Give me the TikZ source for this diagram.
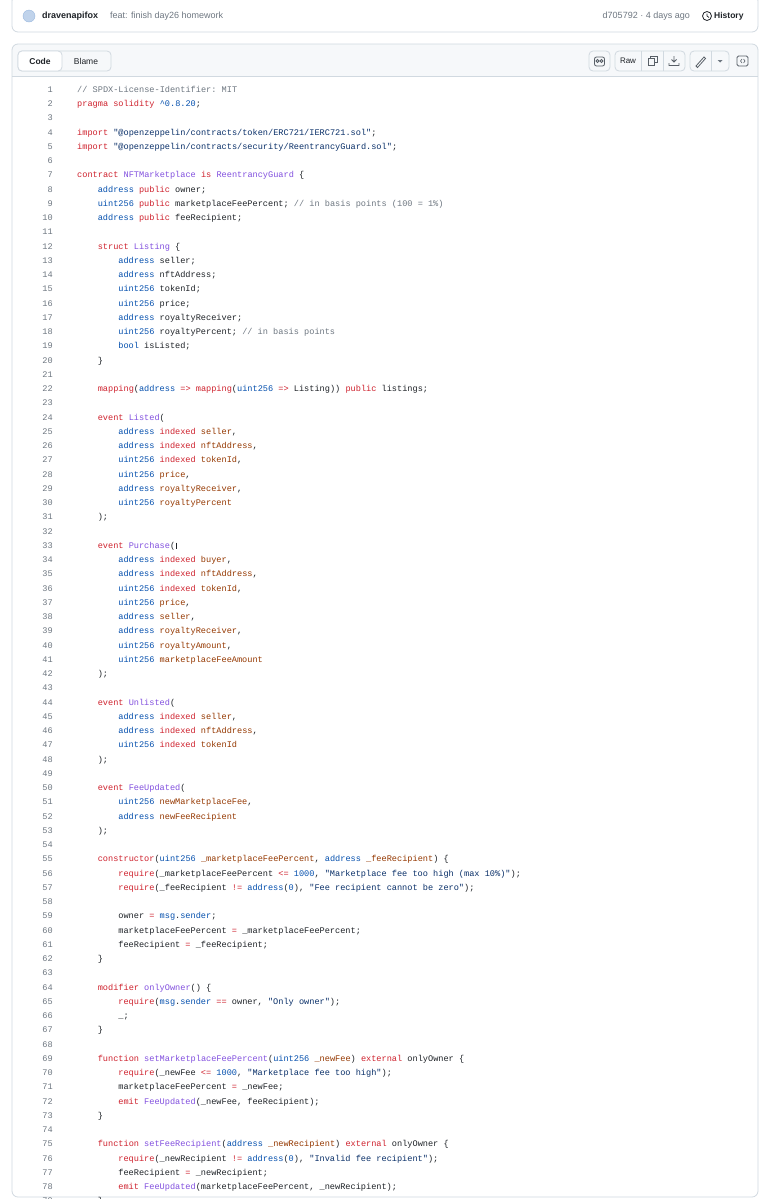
\documentclass[tikz,border=0pt]{standalone}
\usepackage{fontspec}
\setmainfont{Liberation Sans}
\setmonofont{Liberation Mono}
\definecolor{kw}{HTML}{CF222E}
\definecolor{ty}{HTML}{0550AE}
\definecolor{nm}{HTML}{8250DF}
\definecolor{pa}{HTML}{953800}
\definecolor{st}{HTML}{0A3069}
\definecolor{gry}{HTML}{6E7781}
\definecolor{tx}{HTML}{1F2328}
\definecolor{bd}{HTML}{D1D9E0}
\definecolor{bgg}{HTML}{F6F8FA}
\newcommand\ckw[1]{\textcolor{kw}{#1}}
\newcommand\cty[1]{\textcolor{ty}{#1}}
\newcommand\cnm[1]{\textcolor{nm}{#1}}
\newcommand\cpa[1]{\textcolor{pa}{#1}}
\newcommand\cst[1]{\textcolor{st}{#1}}
\newcommand\ccm[1]{\textcolor{gry}{#1}}
\tikzset{
  lnum/.style={anchor=east,inner sep=0pt,font=\ttfamily\fontsize{8.6}{10}\selectfont,text=gry,text height=6.5pt,text depth=2pt},
  code/.style={anchor=west,inner sep=0pt,font=\ttfamily\fontsize{8.6}{10}\selectfont,text=tx,text height=6.5pt,text depth=2pt},
  card/.style={draw=bd,line width=0.8pt,rounded corners=6pt},
  btn/.style={draw=bd,line width=0.8pt,rounded corners=4pt,fill=bgg},
  hdr/.style={inner sep=0pt,font=\fontsize{9}{11}\selectfont,text=tx},
  icon/.style={draw=gry!80!black,line width=0.8pt}
}
\newcommand\cl[3]{%
  \node[lnum] (n#1) at (53,{90+(#1-1)*14.25}) {#1};
  \node[code] (c#1) at ({77+#2*20.6},{90+(#1-1)*14.25}) {#3};}
\newcommand\el[1]{\node[lnum] (n#1) at (53,{90+(#1-1)*14.25}) {#1};}
\begin{document}
\begin{tikzpicture}[x=1pt,y=-1pt]
\useasboundingbox[fill=white] (0,0) rectangle (770,1200);
% top commit card
\draw[card] (12,-5) rectangle (758,32);
\node[circle,fill=ty!25,draw=ty!40,minimum size=12pt,inner sep=0pt] (av) at (29,16) {};
\node[hdr,anchor=west,font=\bfseries\fontsize{9}{11}\selectfont] (user) at (42,16) {dravenapifox};
\node[hdr,anchor=west,text=gry] (msg) at (110,16) {feat: finish day26 homework};
\node[hdr,anchor=east,text=gry] (sha) at (690,16) {d705792 · 4 days ago};
\node[circle,draw=tx,line width=0.8pt,minimum size=9pt,inner sep=0pt] (clk) at (707,16) {};
\draw[tx,line width=0.7pt] (clk.center) -- ++(0,-2.5) (clk.center) -- ++(2,1.5);
\node[hdr,anchor=west,font=\bfseries\fontsize{8.5}{11}\selectfont] (hist) at (714,16) {History};
% code card
\begin{scope}
\clip[rounded corners=6pt] (12,44) rectangle (758,1197);
\fill[bgg] (12,44) rectangle (758,76);
\end{scope}
\draw[card] (12,44) rectangle (758,1197);
\draw[bd,line width=0.8pt] (12,76) -- (758,76);
% segmented control
\draw[btn] (18,51) rectangle (111,71);
\draw[card,fill=white,rounded corners=4pt] (18,51) rectangle (62,71);
\node[hdr,font=\bfseries\fontsize{8.5}{11}\selectfont] (tcode) at (40,61) {Code};
\node[hdr,font=\fontsize{8.5}{11}\selectfont] (tblame) at (86,61) {Blame};
% right buttons
\draw[btn] (589,51) rectangle (610,71);
\draw[icon,rounded corners=2pt] (594.5,57) rectangle (604.5,66);
\draw[icon] (597.5,61) circle (1.5) (601.5,61) circle (1.5);
\draw[btn] (615,51) rectangle (685,71);
\draw[bd,line width=0.8pt] (641,51) -- (641,71) (663,51) -- (663,71);
\node[hdr,font=\fontsize{8}{10}\selectfont] (raw) at (628,61) {Raw};
\draw[icon] (648,58) rectangle (654,65) (650,58) -- (650,56) -- (657,56) -- (657,62) -- (654,62);
\draw[icon] (674,56) -- (674,62) (671.5,59.5) -- (674,62) -- (676.5,59.5) (669,63) -- (669,65.5) -- (679,65.5) -- (679,63);
\draw[btn] (690,51) rectangle (729,71);
\draw[bd,line width=0.8pt] (711,51) -- (711,71);
\draw[icon,line cap=round] (696,66) -- (704,57) -- (705.5,58.5) -- (697.5,67.5) -- cycle;
\fill[gry] (717.5,60) -- (722.5,60) -- (720,62.5) -- cycle;
\draw[icon,rounded corners=1.5pt] (737,56) rectangle (748,66);
\draw[icon,line width=0.6pt] (742,59) -- (740.5,61) -- (742,63) (743.5,59) -- (745,61) -- (743.5,63);
% code lines
\cl{1}{0}{\ccm{// SPDX-License-Identifier: MIT}}
\cl{2}{0}{\ckw{pragma solidity} \cty{\textasciicircum 0.8.20};}
\el{3}
\cl{4}{0}{\ckw{import} \cst{"@openzeppelin/contracts/token/ERC721/IERC721.sol"};}
\cl{5}{0}{\ckw{import} \cst{"@openzeppelin/contracts/security/ReentrancyGuard.sol"};}
\el{6}
\cl{7}{0}{\ckw{contract} \cnm{NFTMarketplace} \ckw{is} \cnm{ReentrancyGuard} \{}
\cl{8}{1}{\cty{address} \ckw{public} owner;}
\cl{9}{1}{\cty{uint256} \ckw{public} marketplaceFeePercent; \ccm{// in basis points (100 = 1\%)}}
\cl{10}{1}{\cty{address} \ckw{public} feeRecipient;}
\el{11}
\cl{12}{1}{\ckw{struct} \cnm{Listing} \{}
\cl{13}{2}{\cty{address} seller;}
\cl{14}{2}{\cty{address} nftAddress;}
\cl{15}{2}{\cty{uint256} tokenId;}
\cl{16}{2}{\cty{uint256} price;}
\cl{17}{2}{\cty{address} royaltyReceiver;}
\cl{18}{2}{\cty{uint256} royaltyPercent; \ccm{// in basis points}}
\cl{19}{2}{\cty{bool} isListed;}
\cl{20}{1}{\}}
\el{21}
\cl{22}{1}{\ckw{mapping}(\cty{address} \ckw{=>} \ckw{mapping}(\cty{uint256} \ckw{=>} Listing)) \ckw{public} listings;}
\el{23}
\cl{24}{1}{\ckw{event} \cnm{Listed}(}
\cl{25}{2}{\cty{address} \ckw{indexed} \cpa{seller},}
\cl{26}{2}{\cty{address} \ckw{indexed} \cpa{nftAddress},}
\cl{27}{2}{\cty{uint256} \ckw{indexed} \cpa{tokenId},}
\cl{28}{2}{\cty{uint256} \cpa{price},}
\cl{29}{2}{\cty{address} \cpa{royaltyReceiver},}
\cl{30}{2}{\cty{uint256} \cpa{royaltyPercent}}
\cl{31}{1}{);}
\el{32}
\cl{33}{1}{\ckw{event} \cnm{Purchase}(}
\draw[tx,line width=1pt] ([xshift=1pt,yshift=-1pt]c33.north east) -- ([xshift=1pt,yshift=1pt]c33.south east);
\cl{34}{2}{\cty{address} \ckw{indexed} \cpa{buyer},}
\cl{35}{2}{\cty{address} \ckw{indexed} \cpa{nftAddress},}
\cl{36}{2}{\cty{uint256} \ckw{indexed} \cpa{tokenId},}
\cl{37}{2}{\cty{uint256} \cpa{price},}
\cl{38}{2}{\cty{address} \cpa{seller},}
\cl{39}{2}{\cty{address} \cpa{royaltyReceiver},}
\cl{40}{2}{\cty{uint256} \cpa{royaltyAmount},}
\cl{41}{2}{\cty{uint256} \cpa{marketplaceFeeAmount}}
\cl{42}{1}{);}
\el{43}
\cl{44}{1}{\ckw{event} \cnm{Unlisted}(}
\cl{45}{2}{\cty{address} \ckw{indexed} \cpa{seller},}
\cl{46}{2}{\cty{address} \ckw{indexed} \cpa{nftAddress},}
\cl{47}{2}{\cty{uint256} \ckw{indexed} \cpa{tokenId}}
\cl{48}{1}{);}
\el{49}
\cl{50}{1}{\ckw{event} \cnm{FeeUpdated}(}
\cl{51}{2}{\cty{uint256} \cpa{newMarketplaceFee},}
\cl{52}{2}{\cty{address} \cpa{newFeeRecipient}}
\cl{53}{1}{);}
\el{54}
\cl{55}{1}{\ckw{constructor}(\cty{uint256} \cpa{\_marketplaceFeePercent}, \cty{address} \cpa{\_feeRecipient}) \{}
\cl{56}{2}{\ckw{require}(\_marketplaceFeePercent \ckw{<=} \cty{1000}, \cst{"Marketplace fee too high (max 10\%)"});}
\cl{57}{2}{\ckw{require}(\_feeRecipient \ckw{!=} \cty{address}(\cty{0}), \cst{"Fee recipient cannot be zero"});}
\el{58}
\cl{59}{2}{owner \ckw{=} \cty{msg}.\cty{sender};}
\cl{60}{2}{marketplaceFeePercent \ckw{=} \_marketplaceFeePercent;}
\cl{61}{2}{feeRecipient \ckw{=} \_feeRecipient;}
\cl{62}{1}{\}}
\el{63}
\cl{64}{1}{\ckw{modifier} \cnm{onlyOwner}() \{}
\cl{65}{2}{\ckw{require}(\cty{msg}.\cty{sender} \ckw{==} owner, \cst{"Only owner"});}
\cl{66}{2}{\_;}
\cl{67}{1}{\}}
\el{68}
\cl{69}{1}{\ckw{function} \cnm{setMarketplaceFeePercent}(\cty{uint256} \cpa{\_newFee}) \ckw{external} onlyOwner \{}
\cl{70}{2}{\ckw{require}(\_newFee \ckw{<=} \cty{1000}, \cst{"Marketplace fee too high"});}
\cl{71}{2}{marketplaceFeePercent \ckw{=} \_newFee;}
\cl{72}{2}{\ckw{emit} \cnm{FeeUpdated}(\_newFee, feeRecipient);}
\cl{73}{1}{\}}
\el{74}
\cl{75}{1}{\ckw{function} \cnm{setFeeRecipient}(\cty{address} \cpa{\_newRecipient}) \ckw{external} onlyOwner \{}
\cl{76}{2}{\ckw{require}(\_newRecipient \ckw{!=} \cty{address}(\cty{0}), \cst{"Invalid fee recipient"});}
\cl{77}{2}{feeRecipient \ckw{=} \_newRecipient;}
\cl{78}{2}{\ckw{emit} \cnm{FeeUpdated}(marketplaceFeePercent, \_newRecipient);}
\begin{scope}
\clip (0,0) rectangle (770,1198);
\cl{79}{1}{\}}
\end{scope}
\end{tikzpicture}
\end{document}
